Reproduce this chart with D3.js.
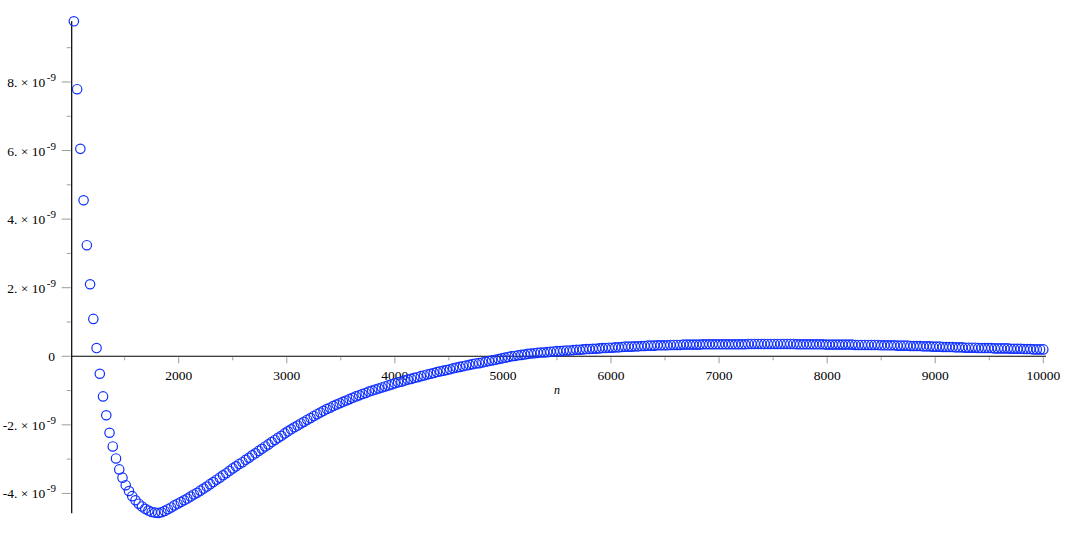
<!DOCTYPE html>
<html>
<head>
<meta charset="utf-8">
<script src="https://cdn.jsdelivr.net/npm/d3@7"></script>
<style>
html,body{margin:0;padding:0;background:#fff;}
svg{display:block;}
text{font-family:"Liberation Serif","DejaVu Serif",serif;fill:#000;}
</style>
</head>
<body>
<svg id="chart" width="1073" height="540"></svg>
<script>
// sample points n
const nValues = [
1030,1060,1090,1120,1150,1180,1210,1240,1270,1300,
1330,1360,1390,1420,1450,1480,1510,1540,1570,1600,
1630,1660,1690,1720,1750,1780,1810,1840,1870,1900,
1930,1960,1990,2020,2050,2080,2110,2140,2170,2200,
2230,2260,2290,2320,2350,2380,2410,2440,2470,2500,
2530,2560,2590,2620,2650,2680,2710,2740,2770,2800,
2830,2860,2890,2920,2950,2980,3010,3040,3070,3100,
3130,3160,3190,3220,3250,3280,3310,3340,3370,3400,
3430,3460,3490,3520,3550,3580,3610,3640,3670,3700,
3730,3760,3790,3820,3850,3880,3910,3940,3970,4000,
4030,4060,4090,4120,4150,4180,4210,4240,4270,4300,
4330,4360,4390,4420,4450,4480,4510,4540,4570,4600,
4630,4660,4690,4720,4750,4780,4810,4840,4870,4900,
4930,4960,4990,5020,5050,5080,5110,5140,5170,5200,
5230,5260,5290,5320,5350,5380,5410,5440,5470,5500,
5530,5560,5590,5620,5650,5680,5710,5740,5770,5800,
5830,5860,5890,5920,5950,5980,6010,6040,6070,6100,
6130,6160,6190,6220,6250,6280,6310,6340,6370,6400,
6430,6460,6490,6520,6550,6580,6610,6640,6670,6700,
6730,6760,6790,6820,6850,6880,6910,6940,6970,7000,
7030,7060,7090,7120,7150,7180,7210,7240,7270,7300,
7330,7360,7390,7420,7450,7480,7510,7540,7570,7600,
7630,7660,7690,7720,7750,7780,7810,7840,7870,7900,
7930,7960,7990,8020,8050,8080,8110,8140,8170,8200,
8230,8260,8290,8320,8350,8380,8410,8440,8470,8500,
8530,8560,8590,8620,8650,8680,8710,8740,8770,8800,
8830,8860,8890,8920,8950,8980,9010,9040,9070,9100,
9130,9160,9190,9220,9250,9280,9310,9340,9370,9400,
9430,9460,9490,9520,9550,9580,9610,9640,9670,9700,
9730,9760,9790,9820,9850,9880,9910,9940,9970,10000
];
// values in units of 1e-9
const valuesE9 = [
9.77,7.79,6.05,4.55,3.24,2.10,1.09,0.24,-0.51,-1.17,
-1.72,-2.23,-2.63,-2.98,-3.30,-3.54,-3.76,-3.93,-4.08,-4.20,
-4.30,-4.38,-4.45,-4.50,-4.54,-4.56,-4.57,-4.55,-4.51,-4.46,
-4.41,-4.35,-4.30,-4.25,-4.20,-4.15,-4.09,-4.03,-3.98,-3.92,
-3.86,-3.80,-3.73,-3.67,-3.60,-3.54,-3.47,-3.41,-3.34,-3.27,
-3.21,-3.14,-3.09,-3.02,-2.96,-2.89,-2.83,-2.76,-2.70,-2.63,
-2.57,-2.50,-2.44,-2.38,-2.32,-2.25,-2.19,-2.13,-2.07,-2.02,
-1.96,-1.91,-1.85,-1.80,-1.74,-1.69,-1.64,-1.59,-1.54,-1.50,
-1.45,-1.41,-1.37,-1.33,-1.29,-1.25,-1.21,-1.17,-1.14,-1.10,
-1.07,-1.03,-1.00,-0.97,-0.94,-0.91,-0.88,-0.85,-0.82,-0.79,
-0.76,-0.74,-0.71,-0.68,-0.66,-0.63,-0.61,-0.58,-0.56,-0.53,
-0.51,-0.49,-0.46,-0.44,-0.42,-0.40,-0.38,-0.35,-0.33,-0.31,
-0.29,-0.27,-0.25,-0.23,-0.21,-0.20,-0.18,-0.16,-0.14,-0.12,
-0.10,-0.08,-0.06,-0.04,-0.02,0.00,0.01,0.03,0.04,0.05,
0.07,0.08,0.09,0.10,0.11,0.11,0.12,0.13,0.14,0.15,
0.15,0.16,0.17,0.17,0.18,0.19,0.19,0.20,0.21,0.21,
0.22,0.22,0.23,0.24,0.24,0.25,0.25,0.26,0.26,0.27,
0.28,0.28,0.28,0.29,0.29,0.30,0.30,0.31,0.31,0.31,
0.32,0.32,0.32,0.32,0.33,0.33,0.33,0.33,0.34,0.34,
0.34,0.34,0.34,0.34,0.35,0.35,0.35,0.35,0.35,0.35,
0.35,0.35,0.35,0.35,0.35,0.35,0.35,0.35,0.36,0.36,
0.36,0.36,0.36,0.36,0.36,0.36,0.36,0.36,0.36,0.36,
0.36,0.36,0.36,0.35,0.35,0.35,0.35,0.35,0.35,0.35,
0.35,0.35,0.34,0.34,0.34,0.34,0.34,0.34,0.34,0.34,
0.34,0.33,0.33,0.33,0.33,0.33,0.33,0.33,0.33,0.32,
0.32,0.32,0.32,0.32,0.31,0.31,0.31,0.31,0.30,0.30,
0.30,0.30,0.29,0.29,0.29,0.28,0.28,0.28,0.27,0.27,
0.27,0.27,0.26,0.26,0.26,0.25,0.25,0.25,0.25,0.24,
0.24,0.24,0.24,0.24,0.23,0.23,0.23,0.23,0.23,0.22,
0.22,0.22,0.22,0.21,0.21,0.21,0.20,0.20,0.20,0.20
];
const xMajorTicks = [2000,3000,4000,5000,6000,7000,8000,9000,10000];
const xMinorTicks = [1500,2500,3500,4500,5500,6500,7500,8500,9500];
const yMajorTicksE9 = [-4,-2,0,2,4,6,8];
const yMinorTicksE9 = [-3,-1,1,3,5,7,9];
const xLabel = "n";

const svg = d3.select("#chart");
const x = d3.scaleLinear().domain([1010, 10000]).range([71.7, 1043.3]);
const y = d3.scaleLinear().domain([-4.58e-9, 9.77e-9]).range([513.3, 21.3]);
const x0 = x(1010), y0 = y(0);
const tickColor = "#8fa38f";

// axes lines
svg.append("line").attr("x1", x0).attr("x2", x0).attr("y1", y.range()[1]).attr("y2", y.range()[0])
  .attr("stroke", "#000").attr("stroke-width", 1.2);
svg.append("line").attr("x1", x0).attr("x2", 1046).attr("y1", y0).attr("y2", y0)
  .attr("stroke", "#000").attr("stroke-width", 1.2);

// x ticks
svg.selectAll(".xmaj").data(xMajorTicks).enter().append("line")
  .attr("x1", d => x(d)).attr("x2", d => x(d)).attr("y1", y0 + 1).attr("y2", y0 + 7)
  .attr("stroke", tickColor).attr("stroke-width", 1);
svg.selectAll(".xmin").data(xMinorTicks).enter().append("line")
  .attr("x1", d => x(d)).attr("x2", d => x(d)).attr("y1", y0 + 1).attr("y2", y0 + 4)
  .attr("stroke", tickColor).attr("stroke-width", 1);
svg.selectAll(".xlab").data(xMajorTicks).enter().append("text")
  .attr("x", d => x(d)).attr("y", y0 + 24).attr("text-anchor", "middle")
  .attr("font-size", 13.5).text(d => d);

// y ticks
svg.selectAll(".ymaj").data(yMajorTicksE9).enter().append("line")
  .attr("x1", x0 - 10).attr("x2", x0 - 1).attr("y1", d => y(d * 1e-9)).attr("y2", d => y(d * 1e-9))
  .attr("stroke", tickColor).attr("stroke-width", 1);
svg.selectAll(".ymin").data(yMinorTicksE9).enter().append("line")
  .attr("x1", x0 - 5).attr("x2", x0 - 1).attr("y1", d => y(d * 1e-9)).attr("y2", d => y(d * 1e-9))
  .attr("stroke", tickColor).attr("stroke-width", 1);
const ylab = svg.selectAll(".ylab").data(yMajorTicksE9).enter().append("text")
  .attr("x", 56).attr("y", d => y(d * 1e-9) + 5).attr("text-anchor", "end").attr("font-size", 13.5);
ylab.each(function(d) {
  const t = d3.select(this);
  if (d === 0) { t.attr("x", 55).text("0"); return; }
  t.append("tspan").text((d < 0 ? "-" : "") + Math.abs(d) + ". \u00d7 10");
  t.append("tspan").attr("dx", 1.5).attr("dy", -6).attr("font-size", 11).text("-9");
});

// axis label
svg.append("text").attr("x", 557).attr("y", 394).attr("text-anchor", "middle")
  .attr("font-size", 12).attr("font-style", "italic").text(xLabel);

// points
svg.append("g").selectAll("circle").data(nValues.map((n, i) => [n, valuesE9[i] * 1e-9]))
  .enter().append("circle")
  .attr("cx", d => x(d[0])).attr("cy", d => y(d[1])).attr("r", 4.7)
  .attr("fill", "none").attr("stroke", "#1030ff").attr("stroke-width", 1.2);
</script>
</body>
</html>
